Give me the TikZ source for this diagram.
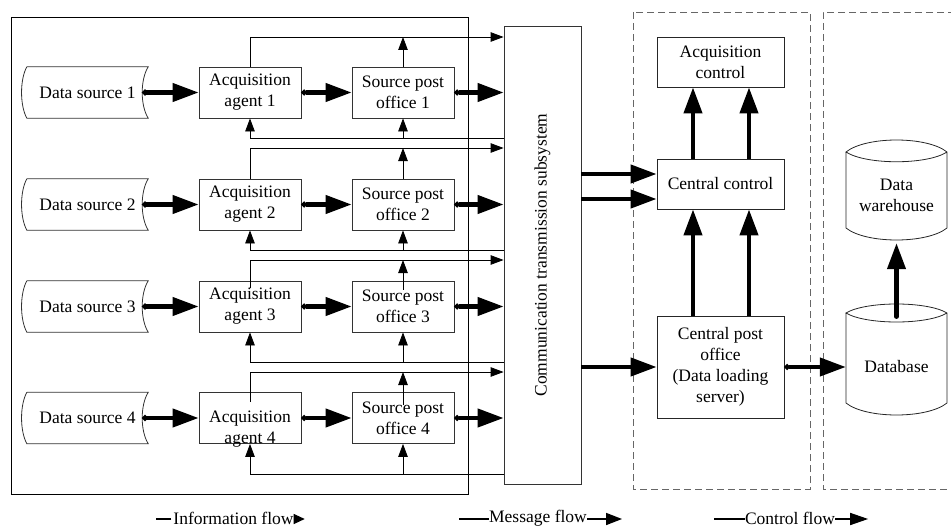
\documentclass[tikz,border=0pt]{standalone}
\usepackage{fontspec}
\setmainfont{Liberation Serif}
\usetikzlibrary{arrows.meta}
\newcommand\dsrc[3]{%
  \node[minimum width=121pt, minimum height=51pt] (#1) at (87.5,#2) {#3};
  \draw[black!80, line width=0.8pt] (#1.north west) -- (#1.north east)
    .. controls +(-8,13) and +(-8,-13) .. (#1.south east) -- (#1.south west)
    .. controls +(-7,-13) and +(-7,13) .. (#1.north west);
}
\begin{document}
\begin{tikzpicture}[x=1pt,y=-1pt,
  every node/.style={font=\fontsize{17.5}{21}\selectfont, align=center, inner sep=0pt},
  box/.style={draw=black!80, line width=0.8pt, minimum width=102pt, minimum height=51pt},
  cbox/.style={draw=black!85, line width=0.8pt, minimum width=127pt},
  bigarrow/.style={line width=4.2pt, -{Triangle[length=26pt,width=18pt]}},
  dotarrow/.style={line width=4.2pt, {Circle[length=5.5pt]}-{Triangle[length=26pt,width=18pt]}},
  msg/.style={line width=0.8pt, -{Triangle[length=13pt,width=9.5pt]}},
  dashbox/.style={black!60, line width=0.8pt, dash pattern=on 7pt off 4pt},
  legline/.style={line width=1.6pt}
]
\useasboundingbox (0,0) rectangle (951,527);

% outer frame and dashed groups
\draw[line width=0.9pt] (11,17) rectangle (468,494);
\draw[dashbox] (633,12) rectangle (810,489);
\draw[dashbox] (955,12) -- (823,12) -- (823,489) -- (955,489);

% data sources
\foreach \i/\cy in {1/92.5,2/204.5,3/306.5,4/418} {\dsrc{ds\i}{\cy}{Data source \i}}

% agents and post offices
\foreach \i/\cy in {1/92.5,2/204.5,3/306.5} {
  \node[box] (a\i) at (250,\cy) {Acquisition\\agent \i};
}
\node[box, label={[font=\fontsize{17.5}{21}\selectfont, align=center, inner sep=0pt, yshift=-11pt]center:{Acquisition\\agent 4}}] (a4) at (250,418) {};
\foreach \i/\cy in {1/92.5,2/204.5,3/306.5,4/418} {
  \node[box] (p\i) at (403,\cy) {Source post\\office \i};
}

% communication subsystem
\node[draw=black!80, line width=0.8pt, minimum width=77pt, minimum height=458pt] (comm) at (542.5,255) {};
\node[rotate=90] (commtext) at (comm.center) {Communication transmission subsystem};

% central part
\node[cbox, minimum height=50pt] (acq) at (720.5,62) {Acquisition\\control};
\node[cbox, minimum height=50pt] (cctl) at (720.5,184) {Central control};
\node[cbox, minimum height=102pt] (cpo) at (720.5,367) {Central post\\office\\(Data loading\\server)};

% cylinders
\draw[black!85, line width=0.8pt] (846,313) -- (846,403) .. controls (866,419) and (927,419) .. (947,403) -- (947,313)
  .. controls (927,301) and (866,301) .. (846,313) .. controls (866,325) and (927,325) .. (947,313);
\draw[black!85, line width=0.8pt] (846,152) -- (846,228) .. controls (866,244) and (927,244) .. (947,228) -- (947,152)
  .. controls (927,136) and (866,136) .. (846,152) .. controls (866,165) and (927,165) .. (947,152);
\node[minimum width=101pt, minimum height=90pt] (db) at (896.5,367) {Database};
\node[minimum width=101pt, minimum height=78pt] (dw) at (896.5,195) {Data\\warehouse};

% row connectors
\foreach \i/\u/\f/\da/\dp in {1/37/138/0/0, 2/148/250/0/0, 3/260/362/7/9, 4/372/474/10/13} {
  \coordinate (u\i) at (0,\u);
  \coordinate (f\i) at (0,\f);
  \draw[msg] ([yshift=-\da pt]a\i.north) |- (comm.west |- u\i);
  \draw[msg] ([yshift=-\dp pt]p\i.north) -- (p\i.north |- u\i);
  \draw[msg] (comm.west |- f\i) -| (a\i.south);
  \draw[msg] (p\i.south |- f\i) -- (p\i.south);
  \draw[dotarrow] ([xshift=-6pt]ds\i.east) -- (a\i.west);
  \draw[dotarrow] (a\i.east) -- (p\i.west);
  \draw[dotarrow] (p\i.east) -- (comm.west |- p\i.east);
}

% central connectors
\coordinate (h1) at (0,174);
\coordinate (h2) at (0,199);
\coordinate (v1) at (693,0);
\coordinate (v2) at (749,0);
\draw[bigarrow] (comm.east |- h1) -- (cctl.west |- h1);
\draw[bigarrow] (comm.east |- h2) -- (cctl.west |- h2);
\draw[bigarrow] (comm.east |- cpo.west) -- (cpo.west);
\draw[bigarrow] (cctl.north -| v1) -- (acq.south -| v1);
\draw[bigarrow] (cctl.north -| v2) -- (acq.south -| v2);
\draw[bigarrow] (cpo.north -| v1) -- (cctl.south -| v1);
\draw[bigarrow] (cpo.north -| v2) -- (cctl.south -| v2);
\draw[dotarrow] (cpo.east) -- (db.west);
\draw[bigarrow, line cap=round] ([yshift=5pt]db.north) -- ([yshift=-9pt]dw.south);

% legend
\node (lg1) at (233.5,518) {Information flow};
\draw[legline] ([xshift=-2pt,yshift=-1pt]lg1.west) -- ++(-15,0);
\draw[line width=1pt, -{Triangle[length=11pt,width=10pt]}] ([yshift=-1pt]lg1.east) -- ++(11,0);
\node (lg2) at (538,518) {Message flow};
\draw[legline] ([yshift=-1pt]lg2.west) -- ++(-30,0);
\draw[legline, -{Triangle[length=16pt,width=12pt]}] ([yshift=-1pt]lg2.east) -- ++(35,0);
\node (lg3) at (790,518) {Control flow};
\draw[legline] ([yshift=-1pt]lg3.west) -- ++(-31,0);
\draw[legline, -{Triangle[length=18pt,width=12pt]}] ([yshift=-1pt]lg3.east) -- ++(33,0);
\end{tikzpicture}
\end{document}
